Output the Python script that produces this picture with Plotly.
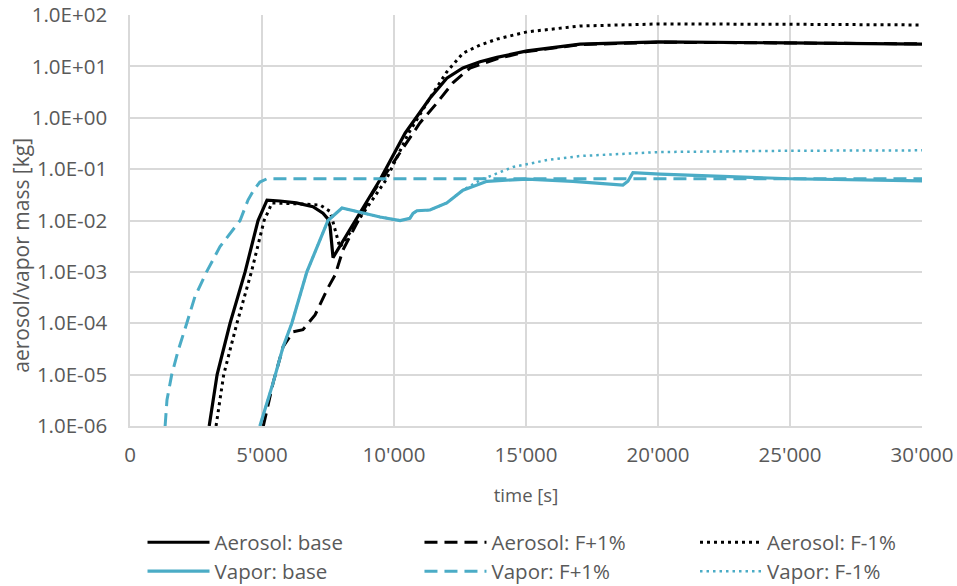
import plotly.graph_objects as go

# ---- data ----
t_aer_base = [3000, 3300, 3790, 4360, 4850, 5190, 5680, 6300, 6930, 7310, 7480, 7580, 7690,
              9470, 10420, 11360, 12000, 12610, 13260, 13900, 15040, 17050, 20040, 25000, 30000]
m_aer_base = [1e-6, 1e-5, 1e-4, 1e-3, 1e-2, 0.025, 0.024, 0.022, 0.0186, 0.0139, 0.011, 0.0076, 0.0019,
              0.062, 0.5, 2.4, 5.9, 9.3, 12.3, 15, 20, 27, 30, 29, 27.2]

t_aer_p1 = [5050, 5420, 5800, 6170, 6550, 7010, 7500, 7770, 8070, 8600, 9200, 10110, 10980,
            11630, 12230, 12880, 13900, 15040, 17050, 20040, 25000, 30000]
m_aer_p1 = [1e-6, 6.9e-6, 3.5e-5, 6.8e-5, 7.5e-5, 1.45e-4, 4.9e-4, 8.7e-4, 2.7e-3, 0.0092, 0.035, 0.17, 0.79,
            1.95, 4.8, 9.3, 14, 19.5, 26.5, 29.5, 28.5, 27.5]

t_aer_m1 = [3260, 3550, 4050, 4600, 5080, 5380, 6500, 7200, 7580, 7770, 7950, 9700, 10550,
            11400, 12000, 12610, 13260, 13900, 15040, 17050, 20040, 25000, 30000]
m_aer_m1 = [1e-6, 1e-5, 1e-4, 1e-3, 1e-2, 0.022, 0.021, 0.02, 0.015, 0.0066, 0.003, 0.062, 0.5,
            2.6, 7.8, 18, 26, 34, 47, 61, 67, 66, 64]

t_vap_base = [4920, 5420, 5800, 6130, 6700, 7500, 8030, 8830, 9470, 10230, 10600, 10720, 10870,
              11360, 12000, 12610, 13520, 15040, 16290, 16780, 18670, 18860, 19050, 20080, 25000, 30000]
m_vap_base = [1e-6, 6.9e-6, 3.5e-5, 1e-4, 1e-3, 1e-2, 0.0175, 0.0138, 0.0117, 0.01, 0.011, 0.0138, 0.0155,
              0.016, 0.022, 0.039, 0.058, 0.064, 0.06, 0.058, 0.049, 0.058, 0.085, 0.08, 0.065, 0.059]

t_vap_p1 = [1330, 1400, 1580, 1830, 2150, 2460, 2900, 3410, 4170, 4470, 4700, 4920, 5190, 30000]
m_vap_p1 = [1e-6, 3.2e-6, 1e-5, 3e-5, 1e-4, 3.3e-4, 1e-3, 3.1e-3, 1e-2, 0.025, 0.04, 0.056, 0.065, 0.065]

t_vap_m1 = [4920, 5420, 5800, 6130, 6700, 7500, 8030, 8830, 9470, 10230, 10600, 10720, 10870,
            11360, 12000, 12610, 13260, 14510, 15800, 17050, 20040, 25000, 30000]
m_vap_m1 = [1e-6, 6.9e-6, 3.5e-5, 1e-4, 1e-3, 1e-2, 0.0175, 0.0138, 0.0117, 0.01, 0.011, 0.0138, 0.0155,
            0.016, 0.022, 0.039, 0.061, 0.11, 0.15, 0.18, 0.215, 0.228, 0.232]

x_ticks = [0, 5000, 10000, 15000, 20000, 25000, 30000]
x_labels = ["0", "5'000", "10'000", "15'000", "20'000", "25'000", "30'000"]
y_ticks = [1e-6, 1e-5, 1e-4, 1e-3, 1e-2, 1e-1, 1e0, 1e1, 1e2]
y_labels = ["1.0E-06", "1.0E-05", "1.0E-04", "1.0E-03", "1.0E-02", "1.0E-01",
            "1.0E+00", "1.0E+01", "1.0E+02"]

BLACK = "#000000"
BLUE = "#4bacc6"
GRAY = "#595959"
GRID = "#d9d9d9"
FONT = "Open Sans"

# name, x, y, colour, width, dash, legend id
series = [
    ("Aerosol: base", t_aer_base, m_aer_base, BLACK, 3.2, "solid", "legend"),
    ("Aerosol: F+1%", t_aer_p1, m_aer_p1, BLACK, 3.0, "13px,7px", "legend2"),
    ("Aerosol: F-1%", t_aer_m1, m_aer_m1, BLACK, 3.0, "3px,4px", "legend3"),
    ("Vapor: base", t_vap_base, m_vap_base, BLUE, 3.2, "solid", "legend4"),
    ("Vapor: F+1%", t_vap_p1, m_vap_p1, BLUE, 3.0, "13px,7px", "legend5"),
    ("Vapor: F-1%", t_vap_m1, m_vap_m1, BLUE, 2.5, "2.5px,4px", "legend6"),
]

fig = go.Figure()
for name, t, m, col, w, dash, lg in series:
    fig.add_trace(go.Scatter(x=t, y=m, mode="lines", name=name, legend=lg,
                             line=dict(color=col, width=w, dash=dash)))

col_x = [0.0158, 0.3655, 0.7134]
row_y = [-0.2346, -0.3051]
legends = {}
for i, lg in enumerate(["legend", "legend2", "legend3", "legend4", "legend5", "legend6"]):
    legends[lg] = dict(x=col_x[i % 3], xanchor="left", y=row_y[i // 3], yanchor="top",
                       orientation="v", itemwidth=62, bgcolor="rgba(0,0,0,0)",
                       font=dict(family=FONT, size=20.5, color=GRAY))

fig.update_layout(
    width=957, height=586,
    margin=dict(l=130, r=35, t=15, b=160, autoexpand=False),
    paper_bgcolor="white", plot_bgcolor="white",
    font=dict(family=FONT, size=20, color=GRAY),
    showlegend=True,
    **legends,
)
fig.update_xaxes(
    range=[0, 30000], tickvals=x_ticks, ticktext=x_labels,
    showgrid=True, gridcolor=GRID, gridwidth=1.5,
    showline=True, linecolor=GRID, linewidth=1.5,
    zeroline=False, ticks="", ticklabelstandoff=10,
    tickfont=dict(family=FONT, size=20.5, color=GRAY),
    title=dict(text="time [s]", font=dict(family=FONT, size=18.5, color=GRAY), standoff=22),
)
fig.update_yaxes(
    type="log", range=[-6, 2], tickvals=y_ticks, ticktext=y_labels,
    showgrid=True, gridcolor=GRID, gridwidth=1.5,
    showline=True, linecolor=GRID, linewidth=1.5,
    zeroline=False, ticks="", ticklabelstandoff=17,
    tickfont=dict(family=FONT, size=20.5, color=GRAY),
)
fig.add_annotation(text="aerosol/vapor mass [kg]", textangle=-90, showarrow=False,
                   xref="paper", yref="paper", x=-0.138, xanchor="center",
                   y=0.416, yanchor="middle",
                   font=dict(family=FONT, size=21, color=GRAY))

fig.write_html("out.html")
